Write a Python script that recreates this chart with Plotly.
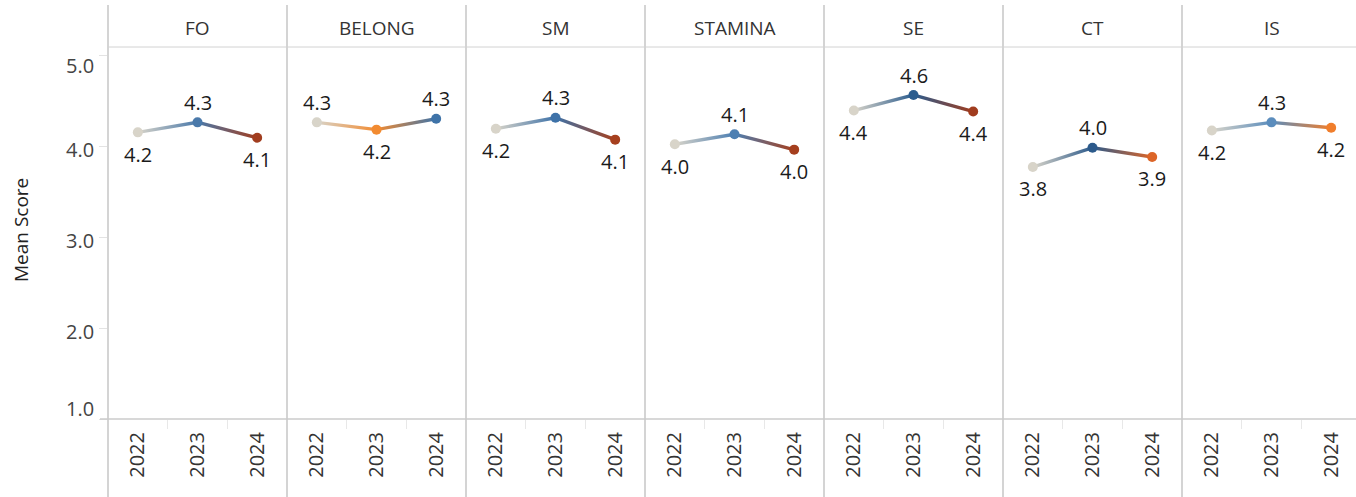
import math
import plotly.graph_objects as go

# ---- data -------------------------------------------------------------
categories = ["FO", "BELONG", "SM", "STAMINA", "SE", "CT", "IS"]
years = ["2022", "2023", "2024"]

fo = [4.15, 4.26, 4.09]
belong = [4.26, 4.18, 4.30]
sm = [4.19, 4.31, 4.07]
stamina = [4.02, 4.13, 3.96]
se = [4.39, 4.56, 4.38]
ct = [3.77, 3.98, 3.88]
is_scores = [4.17, 4.26, 4.20]

y_ticks = [1.0, 2.0, 3.0, 4.0, 5.0]

series = [fo, belong, sm, stamina, se, ct, is_scores]

# ---- style ------------------------------------------------------------
BEIGE = "#d8d4c9"
point_colors = [
    [BEIGE, "#4a79aa", "#a13d1f"],
    [BEIGE, "#f28b31", "#3f73a8"],
    [BEIGE, "#3e72a8", "#a6401e"],
    [BEIGE, "#4d7fb2", "#a53f1e"],
    [BEIGE, "#2b5c8e", "#a03c1e"],
    [BEIGE, "#2c5a8b", "#dc6528"],
    [BEIGE, "#5b8dbd", "#f07e2c"],
]

FONT = "Open Sans"
W, H = 1356, 497
L, T, B = 108, 47, 78
PANEL = 179                      # pixel width of one facet
plot_w = W - L
plot_h = H - T - B
Y_RANGE = [1.0, 5.088]
ppu_y = plot_h / (Y_RANGE[1] - Y_RANGE[0])
ppu_x = PANEL / 3.0
LINE_W = 3.4
SEP_COLOR = "#c6c6c6"


def px_to_paper_y(py):
    return (H - B - py) / plot_h


fig = go.Figure()
annotations = []
shapes = []

for i, (name, vals, cols) in enumerate(zip(categories, series, point_colors)):
    d0 = i * PANEL / plot_w
    d1 = min(1.0, (i + 1) * PANEL / plot_w)
    width_px = (d1 - d0) * plot_w
    xa_name = "x" if i == 0 else f"x{i + 1}"
    xa_key = "xaxis" if i == 0 else f"xaxis{i + 1}"

    fig.layout[xa_key] = dict(
        domain=[d0, d1],
        range=[-0.5, -0.5 + 3 * width_px / PANEL],
        anchor="y",
        tickmode="array",
        tickvals=[0, 1, 2],
        ticktext=years,
        tickangle=-90,
        ticks="",
        ticklabelstandoff=8,
        tickfont=dict(family=FONT, size=20, color="#333333"),
        showgrid=False,
        zeroline=False,
        showline=False,
        fixedrange=True,
        minor=dict(ticks="outside", tickmode="array", tickvals=[0.5, 1.5],
                   ticklen=9, tickcolor="#e8e8e8", tickwidth=1, showgrid=False),
    )

    # gradient-coloured connecting segments (thin filled bands)
    for j in range(len(vals) - 1):
        x0, x1 = j, j + 1
        v0, v1 = vals[j], vals[j + 1]
        slope_px = (v1 - v0) * ppu_y / ppu_x
        h = LINE_W / 2 * math.sqrt(1 + slope_px ** 2) / ppu_y
        fig.add_trace(go.Scatter(
            x=[x0, x1, x1, x0, x0],
            y=[v0 + h, v1 + h, v1 - h, v0 - h, v0 + h],
            mode="none",
            fill="toself",
            fillgradient=dict(type="horizontal",
                              colorscale=[[0, cols[j]], [1, cols[j + 1]]],
                              start=x0, stop=x1),
            hoverinfo="skip",
            showlegend=False,
            xaxis=xa_name, yaxis="y",
        ))

    fig.add_trace(go.Scatter(
        x=[0, 1, 2], y=vals,
        mode="markers",
        marker=dict(size=10, color=cols, line=dict(width=0)),
        showlegend=False,
        xaxis=xa_name, yaxis="y",
        hovertemplate=name + " %{text}: %{y:.2f}<extra></extra>",
        text=years,
    ))

    # value labels: above local peaks, below otherwise
    for j, v in enumerate(vals):
        neighbours = [vals[k] for k in (j - 1, j + 1) if 0 <= k < len(vals)]
        above = all(v >= n for n in neighbours)
        annotations.append(dict(
            x=j, y=v, xref=xa_name, yref="y",
            text=f"{v:.1f}", showarrow=False,
            yshift=20 if above else -22,
            font=dict(family=FONT, size=20, color="#1a1a1a"),
        ))

    # facet header
    annotations.append(dict(
        x=1, xref=xa_name, y=px_to_paper_y(28), yref="paper",
        yanchor="middle", xanchor="center",
        text=name, showarrow=False,
        font=dict(family=FONT, size=19, color="#333333"),
    ))

    # facet separator
    sx = (L + i * PANEL - L) / plot_w
    shapes.append(dict(type="line", xref="paper", yref="paper",
                       x0=sx, x1=sx, y0=px_to_paper_y(H), y1=px_to_paper_y(5),
                       line=dict(color=SEP_COLOR, width=1.5)))

# header rule and bottom axis rule
shapes.append(dict(type="line", xref="paper", yref="paper", x0=0, x1=1, y0=1, y1=1,
                   line=dict(color="#d2d2d2", width=1)))
shapes.append(dict(type="line", xref="paper", yref="paper",
                   x0=-8 / plot_w, x1=1, y0=0, y1=0,
                   line=dict(color="#cbcbcb", width=1.5)))

# y tick labels (edge labels kept inside the pane)
for v in y_ticks:
    shift = -3
    if v == max(y_ticks):
        shift = -10
    elif v == min(y_ticks):
        shift = 11
    annotations.append(dict(
        x=0, xref="paper", y=v, yref="y", xanchor="right", yanchor="middle",
        xshift=-12, yshift=shift, text=f"{v:.1f}", showarrow=False,
        font=dict(family=FONT, size=20, color="#444444"),
    ))

# axis title
annotations.append(dict(
    x=(20.5 - L) / plot_w, xref="paper", y=px_to_paper_y(230.5), yref="paper",
    xanchor="center", yanchor="middle",
    text="Mean Score", textangle=-90, showarrow=False,
    font=dict(family=FONT, size=19, color="#222222"),
))

fig.update_layout(
    width=W, height=H,
    margin=dict(l=L, r=0, t=T, b=B, pad=0),
    paper_bgcolor="white", plot_bgcolor="white",
    showlegend=False,
    yaxis=dict(
        domain=[0, 1], range=Y_RANGE, anchor="x",
        tickmode="array", tickvals=y_ticks,
        showticklabels=False, ticks="outside", ticklen=8,
        tickcolor="#e3e3e3", tickwidth=1,
        showgrid=False, zeroline=False, showline=False, fixedrange=True,
    ),
    annotations=annotations,
    shapes=shapes,
)

fig.write_html("out.html")
